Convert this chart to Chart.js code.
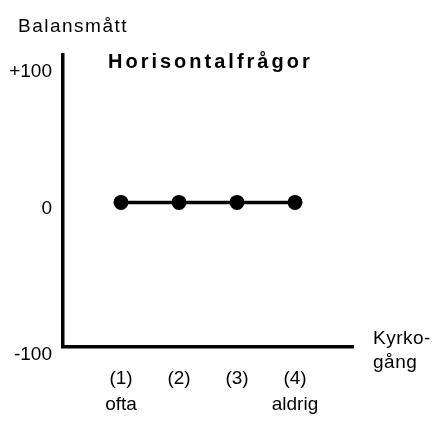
<!DOCTYPE html>
<html>
<head>
<meta charset="utf-8">
<script src="https://cdn.jsdelivr.net/npm/chart.js@4/dist/chart.umd.min.js"></script>
<style>
  body { margin: 0; background: #fff; }
</style>
</head>
<body>
<canvas id="chartLine" width="437" height="425"></canvas>
<script>
// kyrkogång, 1 = ofta ... 4 = aldrig
const positions = [1, 2, 3, 4];
const balance = [5, 5, 5, 5];
const catLabels = [["(1)", "ofta"], ["(2)", ""], ["(3)", ""], ["(4)", "aldrig"]];
const yTicks = [-100, 0, 100];

const FONT = "'Liberation Sans', Arial, sans-serif";

// texts drawn by hand: y title, chart heading, x title, and the -100 label
// which sits a bit under the x axis in the original
const textPlugin = {
  id: "texts",
  afterDraw(chart) {
    const ctx = chart.ctx;
    const ys = chart.scales.y;
    ctx.save();
    ctx.fillStyle = "#000";
    ctx.textAlign = "left";
    ctx.textBaseline = "alphabetic";

    ctx.font = "19px " + FONT;
    ctx.letterSpacing = "1.5px";
    ctx.fillText("Balansmått", 18, 32);

    ctx.font = "bold 20px " + FONT;
    ctx.letterSpacing = "3px";
    ctx.fillText("Horisontalfrågor", 108, 68);

    ctx.font = "19px " + FONT;
    ctx.letterSpacing = "0.5px";
    ctx.fillText("Kyrko-", 373, 344);
    ctx.fillText("gång", 373, 368);

    ctx.letterSpacing = "0px";
    ctx.textAlign = "right";
    ctx.textBaseline = "middle";
    ctx.fillText(String(yTicks[0]), ys.right - 11, ys.getPixelForValue(yTicks[0]) + 8);
    ctx.restore();
  }
};

new Chart(document.getElementById("chartLine"), {
  type: "line",
  data: {
    datasets: [{
      data: positions.map((x, i) => ({ x: x, y: balance[i] })),
      borderColor: "#000",
      backgroundColor: "#000",
      borderWidth: 3.5,
      pointRadius: 7.5,
      pointBackgroundColor: "#000",
      pointBorderWidth: 0,
      tension: 0
    }]
  },
  options: {
    responsive: false,
    animation: false,
    layout: { padding: { top: 55, right: 84, left: 0, bottom: 0 } },
    plugins: { legend: { display: false }, tooltip: { enabled: false } },
    scales: {
      x: {
        type: "linear",
        min: 0,
        max: 5,
        grid: { display: false, drawTicks: false },
        border: { display: true, color: "#000", width: 3.5 },
        afterBuildTicks: (s) => { s.ticks = positions.map(v => ({ value: v })); },
        afterFit: (s) => { s.height = 78; },
        ticks: {
          color: "#000",
          padding: 18,
          font: { family: FONT, size: 19, lineHeight: 1.4 },
          maxRotation: 0,
          autoSkip: false,
          callback: (v) => catLabels[positions.indexOf(v)] || ""
        }
      },
      y: {
        min: -100,
        max: 112,
        grid: { display: false, drawTicks: false },
        border: { display: true, color: "#000", width: 3.5 },
        afterBuildTicks: (s) => { s.ticks = yTicks.map(v => ({ value: v })); },
        afterFit: (s) => { s.width = 63; },
        ticks: {
          color: "#000",
          padding: 11,
          font: { family: FONT, size: 19 },
          callback: (v) => v === yTicks[0] ? "" : (v > 0 ? "+" + v : String(v))
        }
      }
    }
  },
  plugins: [textPlugin]
});
</script>
</body>
</html>
